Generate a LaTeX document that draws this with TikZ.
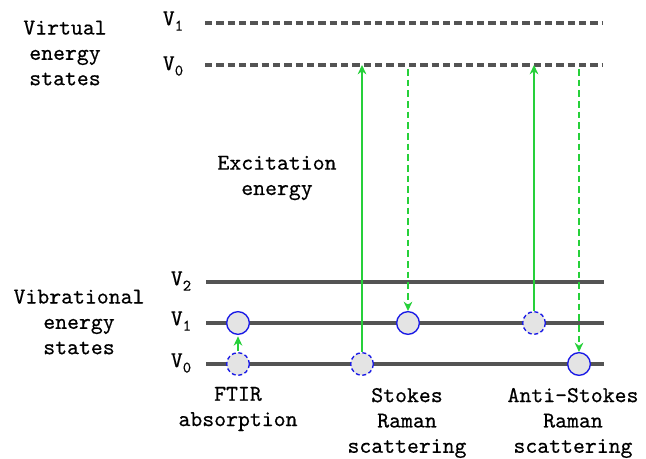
\documentclass[tikz,border=0pt]{standalone}
\usepackage{fontspec}
\newfontfamily\labelfont[FakeBold=0.5]{lmmono10-regular.otf}
\usetikzlibrary{arrows.meta}
\definecolor{levelgray}{HTML}{545454}
\definecolor{photon}{HTML}{26D03A}
\definecolor{molblue}{HTML}{1A1AE6}
\definecolor{molfill}{HTML}{E4E4E4}
\newcommand{\vsub}[1]{V\raisebox{-4pt}{\fontsize{12}{12}\selectfont #1}}
\tikzset{level/.style={draw=levelgray, line width=2.3pt},
         virtual/.style={level, dash pattern=on 5.5pt off 3pt},
         lvlname/.style={font=\labelfont\fontsize{17}{18}\selectfont, inner sep=0pt},
         caption/.style={align=center, font=\labelfont\fontsize{17}{19}\selectfont, inner sep=0pt},
         molecule/.style={circle, draw=molblue, fill=molfill, line width=1pt,
                          minimum size=17pt, inner sep=0pt},
         ghost/.style={molecule, densely dashed},
         laser/.style={draw=photon, line width=2.1pt, -{Stealth[length=7pt,width=6.5pt]}},
         scatter/.style={laser, dash pattern=on 5pt off 3pt},
         }
\begin{document}
\begin{tikzpicture}[x=0.75pt,y=-0.75pt]
\useasboundingbox (0,0) rectangle (646,459);
% virtual levels
\coordinate (u1) at (205,23);  \coordinate (u1e) at (603,23);
\coordinate (u0) at (205,65);  \coordinate (u0e) at (603,65);
\draw[virtual] (u1) -- (u1e);
\draw[virtual] (u0) -- (u0e);
\node[lvlname] (nu1) at (173,21) {\vsub{1}};
\node[lvlname] (nu0) at (173,66) {\vsub{0}};
% vibrational levels
\coordinate (v2) at (206,282); \coordinate (v2e) at (604,282);
\coordinate (v1) at (206,323); \coordinate (v1e) at (604,323);
\coordinate (v0) at (206,364); \coordinate (v0e) at (604,364);
\draw[level] (v2) -- (v2e);
\draw[level] (v1) -- (v1e);
\draw[level] (v0) -- (v0e);
\node[lvlname] (nv2) at (181,281) {\vsub{2}};
\node[lvlname] (nv1) at (181,321) {\vsub{1}};
\node[lvlname] (nv0) at (181,363) {\vsub{0}};

% FTIR
\node[ghost]    (f0) at (238,364) {};
\node[molecule] (f1) at (238,323) {};
\draw[laser, shorten <=1pt, shorten >=1pt] (f0) -- (f1);
% Stokes
\node[ghost]    (s0) at (362,364) {};
\node[molecule] (s1) at (408,323) {};
\draw[laser] (s0) -- (s0 |- u0);
\draw[scatter, shorten <=3pt] (s1 |- u0) -- (s1);
% anti-Stokes
\node[ghost]    (a1) at (534,323) {};
\node[molecule] (a0) at (579,364) {};
\draw[laser] (a1) -- (a1 |- u0);
\draw[scatter, shorten <=3pt] (a0 |- u0) -- (a0);

% captions
\node[caption] (virt)   at (65,53)   {Virtual\\energy\\states};
\node[caption] (vib)    at (79,322)  {Vibrational\\energy\\states};
\node[caption] (exc)    at (277,178) {Excitation\\energy};
\node[caption] (ftir)   at (238,409) {FTIR\\absorption};
\node[caption] (stokes) at (407,423) {Stokes\\Raman\\scattering};
\node[caption] (anti)   at (573,423) {Anti-Stokes\\Raman\\scattering};
\end{tikzpicture}
\end{document}
